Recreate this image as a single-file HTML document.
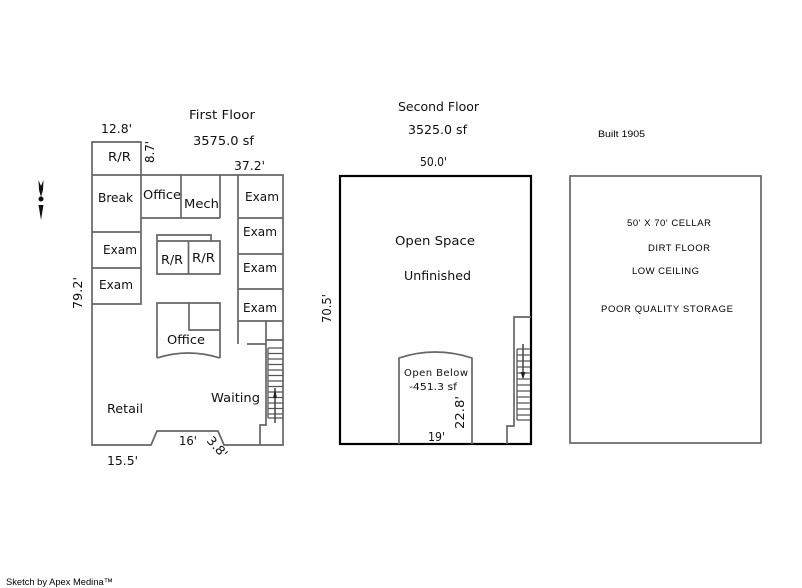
<!DOCTYPE html>
<html><head><meta charset="utf-8"><style>
html,body{margin:0;padding:0;background:#fff}
svg{display:block}
text{font-family:"DejaVu Sans",sans-serif;font-size:12.5px;fill:#111}
.a{font-family:"Liberation Sans",sans-serif;font-size:9.5px;fill:#000}
.s{font-size:10px}
.l{fill:none;stroke:#666;stroke-width:1.7}
.t{fill:none;stroke:#555;stroke-width:1.3}
</style></head><body>
<svg width="802" height="588" viewBox="0 0 802 588" xmlns="http://www.w3.org/2000/svg">
<path class="l" d="M92 142H141V304H92ZM92 175H283V445H224L218 431H157L151 445H92V175M92 232H141M92 268H141"/>
<path class="l" d="M181 175V218M220 175V218M141 218H220"/>
<path class="l" d="M238 175V344M238 218H283M238 254H283M238 289H283M238 321H283M247 344H266M266 321V425H260V445M266 340H283"/>
<path class="l" d="M157 241H220V274H157ZM157 241V235H211V241M188.500 241V274"/>
<path class="l" d="M157 358V303H220V358M189 303V330H220M157 358Q188 348 220 358"/>
<path class="t" d="M268 348H283M268 353.500H283M268 359H283M268 364.500H283M268 370H283M268 375.500H283M268 381H283M268 386.500H283M268 392H283M268 397.500H283M268 403H283M268 408.500H283M268 414H283M268 418H283M268 348V418"/>
<path d="M275 388V423" stroke="#444" stroke-width="1.500"/><path d="M273 398L275 389L277 398Z" fill="#222"/>
<rect x="340" y="176" width="191" height="268" fill="none" stroke="#000" stroke-width="2.200"/>
<path class="l" d="M399 444V358Q435 346 472 358V444"/>
<path class="l" d="M531 317H514V426H507V444"/>
<path class="t" d="M517 349H530M517 355H530M517 361H530M517 367H530M517 373H530M517 379H530M517 385H530M517 391H530M517 397H530M517 403H530M517 409H530M517 415H530M517 420H530M517 349V420"/>
<path d="M523 344V378" stroke="#444" stroke-width="1.500"/><path d="M520.500 372L523 379L525.500 372Z" fill="#222"/>
<rect x="570" y="176" width="191" height="267" fill="none" stroke="#666" stroke-width="1.700"/>
<path d="M38.500 180L41 186L43.500 180L43 190L41 197L39 190Z" fill="#111"/>
<circle cx="41" cy="199" r="2.500" fill="#111"/>
<path d="M38.500 205H43.500L41 220Z" fill="#111"/>
<text x="101" y="133" textLength="31" lengthAdjust="spacingAndGlyphs">12.8'</text>
<text x="108" y="161" textLength="23" lengthAdjust="spacingAndGlyphs">R/R</text>
<text transform="translate(154 163) rotate(-90)" textLength="22" lengthAdjust="spacingAndGlyphs">8.7'</text>
<text x="189" y="119" textLength="66" lengthAdjust="spacingAndGlyphs">First Floor</text>
<text x="193" y="145" textLength="61" lengthAdjust="spacingAndGlyphs">3575.0 sf</text>
<text x="234" y="170" textLength="31" lengthAdjust="spacingAndGlyphs">37.2'</text>
<text x="98" y="202" textLength="35" lengthAdjust="spacingAndGlyphs">Break</text>
<text x="143" y="199" textLength="38" lengthAdjust="spacingAndGlyphs">Office</text>
<text x="184" y="208" textLength="35" lengthAdjust="spacingAndGlyphs">Mech</text>
<text x="245" y="201" textLength="34" lengthAdjust="spacingAndGlyphs">Exam</text>
<text x="243" y="236" textLength="34" lengthAdjust="spacingAndGlyphs">Exam</text>
<text x="243" y="272" textLength="34" lengthAdjust="spacingAndGlyphs">Exam</text>
<text x="243" y="312" textLength="34" lengthAdjust="spacingAndGlyphs">Exam</text>
<text x="103" y="254" textLength="34" lengthAdjust="spacingAndGlyphs">Exam</text>
<text x="99" y="289" textLength="34" lengthAdjust="spacingAndGlyphs">Exam</text>
<text x="161" y="264" textLength="22" lengthAdjust="spacingAndGlyphs">R/R</text>
<text x="192" y="262" textLength="23" lengthAdjust="spacingAndGlyphs">R/R</text>
<text x="167" y="344" textLength="38" lengthAdjust="spacingAndGlyphs">Office</text>
<text x="211" y="402" textLength="49" lengthAdjust="spacingAndGlyphs">Waiting</text>
<text x="107" y="413" textLength="36" lengthAdjust="spacingAndGlyphs">Retail</text>
<text x="179" y="445" textLength="18" lengthAdjust="spacingAndGlyphs">16'</text>
<text transform="translate(206 441) rotate(48)" textLength="24" lengthAdjust="spacingAndGlyphs">3.8'</text>
<text x="107" y="465" textLength="31" lengthAdjust="spacingAndGlyphs">15.5'</text>
<text transform="translate(82 309) rotate(-90)" textLength="32" lengthAdjust="spacingAndGlyphs">79.2'</text>
<text x="398" y="111" textLength="81" lengthAdjust="spacingAndGlyphs">Second Floor</text>
<text x="408" y="134" textLength="59" lengthAdjust="spacingAndGlyphs">3525.0 sf</text>
<text x="420" y="166" textLength="27" lengthAdjust="spacingAndGlyphs">50.0'</text>
<text x="395" y="245" textLength="80" lengthAdjust="spacingAndGlyphs">Open Space</text>
<text x="404" y="280" textLength="67" lengthAdjust="spacingAndGlyphs">Unfinished</text>
<text transform="translate(331 323) rotate(-90)" textLength="29" lengthAdjust="spacingAndGlyphs">70.5'</text>
<text class="s" x="404" y="376" textLength="64">Open Below</text>
<text class="s" x="409" y="390" textLength="48" lengthAdjust="spacingAndGlyphs">-451.3 sf</text>
<text transform="translate(464 429) rotate(-90)" textLength="33" lengthAdjust="spacingAndGlyphs">22.8'</text>
<text x="428" y="441" textLength="17" lengthAdjust="spacingAndGlyphs">19'</text>
<text class="a" x="598" y="137" textLength="47" lengthAdjust="spacingAndGlyphs">Built 1905</text>
<text class="a" x="627" y="226" textLength="84">50' X 70' CELLAR</text>
<text class="a" x="648" y="251" textLength="62">DIRT FLOOR</text>
<text class="a" x="632" y="274" textLength="67">LOW CEILING</text>
<text class="a" x="601" y="312" textLength="132">POOR QUALITY STORAGE</text>
<text class="a" style="font-size:9.500px" x="6" y="585" textLength="107" lengthAdjust="spacingAndGlyphs">Sketch by Apex Medina™</text>
</svg>
</body></html>
